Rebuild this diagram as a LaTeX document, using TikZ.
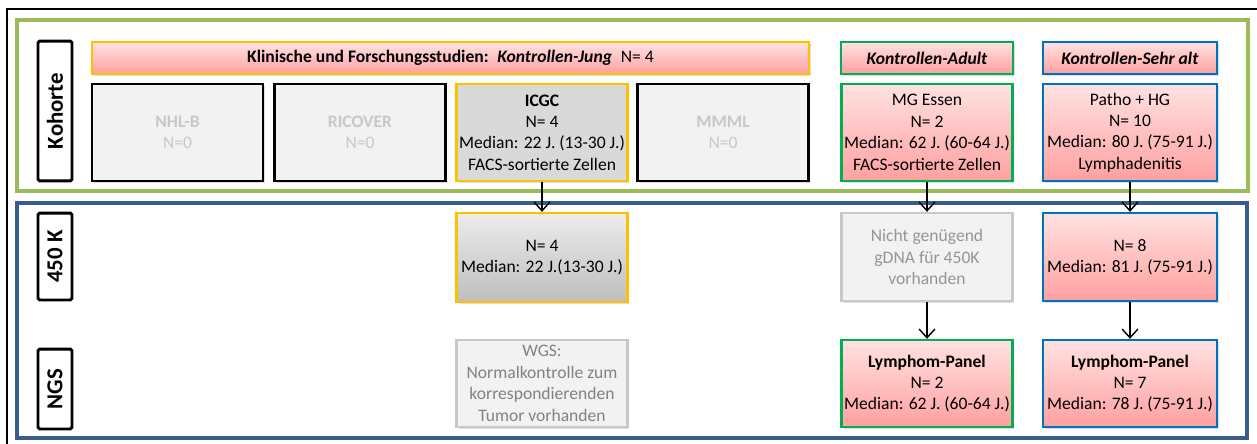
\documentclass[tikz,border=0pt]{standalone}
\usepackage{fontspec}
\setmainfont{Carlito}
\usepackage{xcolor}
\definecolor{framegreen}{RGB}{155,187,89}
\definecolor{frameblue}{RGB}{56,93,138}
\definecolor{jung}{RGB}{255,192,0}
\definecolor{adult}{RGB}{0,176,80}
\definecolor{sehralt}{RGB}{0,112,192}
\definecolor{pinktop}{RGB}{255,226,226}
\definecolor{pinkbot}{RGB}{255,160,160}
\definecolor{paleface}{RGB}{242,242,242}
\definecolor{paletext}{RGB}{200,200,200}
\definecolor{dimtext}{RGB}{150,150,150}
\usetikzlibrary{arrows.meta}
\usetikzlibrary{shadows}
\usetikzlibrary{positioning}

\tikzset{
  box/.style={draw, line width=1.35pt, align=center, inner sep=1pt,
    minimum width=3.42cm, minimum height=1.94cm,
    font=\fontsize{10}{12.2}\selectfont,
    drop shadow={opacity=0.25, shadow xshift=0.04cm, shadow yshift=-0.04cm}},
  pinkbox/.style={box, top color=pinktop, bottom color=pinkbot},
  palebox/.style={box, fill=paleface, text=paletext},
  dimbox/.style={box, draw=paletext, fill=paleface, text=dimtext},
  headbox/.style={box, minimum height=0.64cm, top color=pinktop, bottom color=pinkbot},
  rowlabel/.style={draw, line width=1.7pt, rounded corners=1pt, rotate=90,
    minimum height=0.68cm, font=\fontsize{13}{15}\selectfont\bfseries},
  flow/.style={-{Straight Barb[length=5pt,width=9pt]}, line width=0.8pt}
}

\begin{document}
\begin{tikzpicture}[x=0.02cm, y=-0.02cm]
  \useasboundingbox (0,0) rectangle (1257,443);

  % frames
  \draw[line width=0.8pt] (7,9) rectangle (1275,460);
  \draw[framegreen, line width=2pt] (17,20) rectangle (1248,191);
  \draw[frameblue, line width=2pt] (17,203) rectangle (1247,438);

  % row labels
  \node[rowlabel, minimum width=2.8cm] (kohorte) at (55,111) {Kohorte};
  \node[rowlabel, minimum width=1.74cm] (meth) at (55,256.5) {450 K};
  \node[rowlabel, minimum width=1.6cm] (ngs) at (55,389) {NGS};

  % Kohorte: headers
  \node[headbox, draw=jung, minimum width=14.34cm] (hdrjung) at (450.5,58)
    {\textbf{Klinische und Forschungsstudien:}\enspace\textbf{\textit{Kontrollen-Jung}}\enspace N= 4};
  \node[headbox, draw=adult, minimum width=3.44cm] (hdradult) at (927,58)
    {\textbf{\textit{Kontrollen-Adult}}};
  \node[headbox, draw=sehralt, minimum width=3.48cm] (hdrsehr) at (1130,58)
    {\textbf{\textit{Kontrollen-Sehr alt}}};

  % Kohorte: studies
  \node[palebox] (nhlb) at (177.5,132.5) {\textbf{NHL-B}\\N=0};
  \node[palebox] (ricover) at (360,132.5) {\textbf{RICOVER}\\N=0};
  \node[box, draw=jung, fill={rgb,255:red,217;green,217;blue,217}] (icgc) at (542,132.5)
    {\textbf{ICGC}\\N= 4\\Median: 22 J. (13-30 J.)\\FACS-sortierte Zellen};
  \node[palebox] (mmml) at (723,132.5) {\textbf{MMML}\\N=0};
  \node[pinkbox, draw=adult] (mgessen) at (927,132.5)
    {MG Essen\\N= 2\\Median: 62 J. (60-64 J.)\\FACS-sortierte Zellen};
  \node[pinkbox, draw=sehralt, minimum width=3.48cm] (patho) at (1130,132.5)
    {Patho + HG\\N= 10\\Median: 80 J. (75-91 J.)\\Lymphadenitis};

  % 450 K
  \node[box, draw=jung, minimum height=1.78cm,
    top color={rgb,255:red,236;green,236;blue,236},
    bottom color={rgb,255:red,190;green,190;blue,190}] (icgcmeth) at (542,257.5)
    {N= 4\\Median: 22 J.(13-30 J.)};
  \node[dimbox, minimum height=1.76cm] (nicht) at (927,257)
    {Nicht genügend\\gDNA für 450K\\vorhanden};
  \node[pinkbox, draw=sehralt, minimum width=3.48cm, minimum height=1.76cm] (n8) at (1130,257)
    {N= 8\\Median: 81 J. (75-91 J.)};

  % NGS
  \node[dimbox, minimum height=1.74cm, text={rgb,255:red,130;green,130;blue,130}] (wgs) at (542,383.5)
    {WGS:\\Normalkontrolle zum\\korrespondierenden\\Tumor vorhanden};
  \node[pinkbox, draw=adult, minimum height=1.74cm] (lymadult) at (927,383.5)
    {\textbf{Lymphom-Panel}\\N= 2\\Median: 62 J. (60-64 J.)};
  \node[pinkbox, draw=sehralt, minimum width=3.48cm, minimum height=1.74cm] (lymsehr) at (1130,383.5)
    {\textbf{Lymphom-Panel}\\N= 7\\Median: 78 J. (75-91 J.)};

  % connectors
  \draw[flow] (icgc) -- (icgcmeth);
  \draw[flow] (mgessen) -- (nicht);
  \draw[flow] (patho) -- (n8);
  \draw[flow] (nicht) -- (lymadult);
  \draw[flow] (n8) -- (lymsehr);

\end{tikzpicture}
\end{document}
